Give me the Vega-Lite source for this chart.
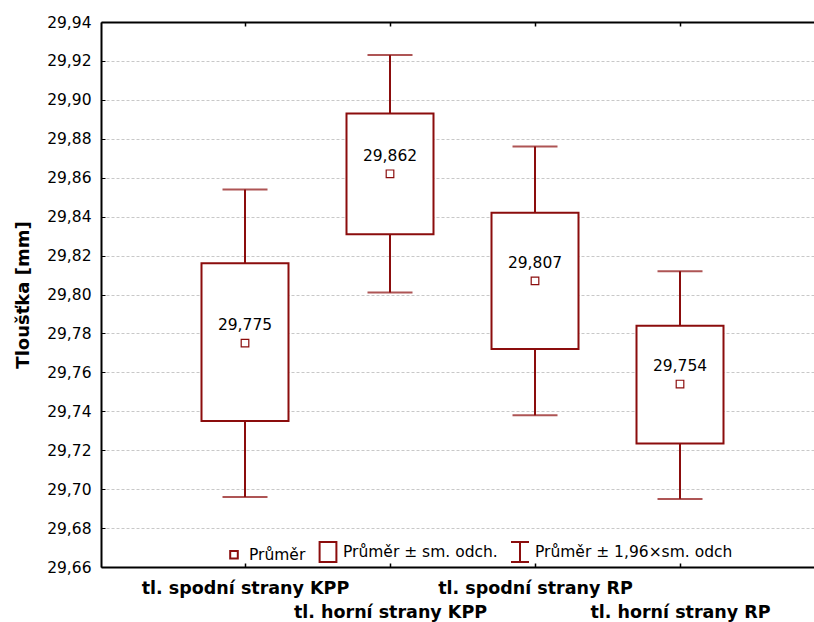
{
  "$schema": "https://vega.github.io/schema/vega-lite/v6.json",
  "width": 713,
  "height": 545,
  "autosize": {"type": "none"},
  "padding": {"left": 101, "top": 22, "right": 0, "bottom": 55},
  "background": "white",
  "config": {
    "locale": {"number": {"decimal": ",", "thousands": " ", "grouping": [3], "currency": ["", " Kč"]}},
    "font": "DejaVu Sans",
    "view": {"stroke": null},
    "axis": {"labelFont": "DejaVu Sans", "titleFont": "DejaVu Sans", "labelColor": "black", "titleColor": "black"}
  },
  "data": {
    "values": [
      {"strana": "tl. spodní strany KPP", "typ": "Průměr", "prumer": 29.775, "sd_lo": 29.735, "sd_hi": 29.816, "ci_lo": 29.696, "ci_hi": 29.854},
      {"strana": "tl. horní strany KPP", "typ": "Průměr", "prumer": 29.862, "sd_lo": 29.831, "sd_hi": 29.893, "ci_lo": 29.801, "ci_hi": 29.923},
      {"strana": "tl. spodní strany RP", "typ": "Průměr", "prumer": 29.807, "sd_lo": 29.772, "sd_hi": 29.842, "ci_lo": 29.738, "ci_hi": 29.876},
      {"strana": "tl. horní strany RP", "typ": "Průměr", "prumer": 29.754, "sd_lo": 29.7235, "sd_hi": 29.784, "ci_lo": 29.695, "ci_hi": 29.812}
    ]
  },
  "resolve": {"axis": {"x": "independent", "y": "independent"}},
  "layer": [
    {
      "mark": {"type": "rule", "color": "#8b0d0d", "strokeWidth": 2},
      "encoding": {
        "x": {
          "field": "strana", "type": "nominal", "sort": null,
          "scale": {"type": "point", "padding": 0.9586, "align": 0.518},
          "axis": {
            "orient": "bottom", "title": null, "labelAngle": 0,
            "domainColor": "black", "domainWidth": 2,
            "tickColor": "black", "tickWidth": 1.5, "tickSize": -4,
            "labelFontSize": 17.5, "labelFontWeight": "bold", "labelLimit": 300,
            "labelBaseline": "top", "labelPadding": 16, "labelLineHeight": 24,
            "labelExpr": "indexof(datum.value, 'horní') >= 0 ? ['', datum.label] : datum.label"
          }
        },
        "y": {
          "field": "ci_lo", "type": "quantitative", "title": "Tloušťka [mm]",
          "scale": {"domain": [29.66, 29.94], "nice": false, "zero": false},
          "axis": {
            "values": [29.66, 29.68, 29.70, 29.72, 29.74, 29.76, 29.78, 29.80, 29.82, 29.84, 29.86, 29.88, 29.90, 29.92, 29.94],
            "format": ".2f", "labelOverlap": false,
            "domainColor": "black", "domainWidth": 2,
            "tickColor": "black", "tickWidth": 1, "tickSize": -4,
            "labelFontSize": 15.5, "labelPadding": 14,
            "titleFontSize": 18, "titleFontWeight": "bold", "titlePadding": 14,
            "grid": true, "gridColor": "#c8c8c8", "gridDash": [3, 2], "gridWidth": 1
          }
        },
        "y2": {"field": "ci_hi"}
      }
    },
    {
      "mark": {"type": "tick", "color": "#8b0d0d", "thickness": 2, "size": 45, "orient": "horizontal"},
      "encoding": {
        "x": {"field": "strana", "type": "nominal", "sort": null, "axis": null},
        "y": {"field": "ci_lo", "type": "quantitative", "axis": null}
      }
    },
    {
      "mark": {"type": "tick", "color": "#8b0d0d", "thickness": 2, "size": 45, "orient": "horizontal"},
      "encoding": {
        "x": {"field": "strana", "type": "nominal", "sort": null, "axis": null},
        "y": {"field": "ci_hi", "type": "quantitative", "axis": null}
      }
    },
    {
      "mark": {"type": "bar", "fill": "white", "stroke": "#8b0d0d", "strokeWidth": 2, "size": 87},
      "encoding": {
        "x": {"field": "strana", "type": "nominal", "sort": null, "axis": null},
        "y": {"field": "sd_lo", "type": "quantitative", "axis": null},
        "y2": {"field": "sd_hi"}
      }
    },
    {
      "mark": {"type": "point", "filled": false, "color": "#8b0d0d", "strokeWidth": 1.2, "size": 400, "opacity": 1},
      "encoding": {
        "x": {"field": "strana", "type": "nominal", "sort": null, "axis": null},
        "y": {"field": "prumer", "type": "quantitative", "axis": null},
        "shape": {
          "field": "typ", "type": "nominal",
          "scale": {
            "domain": ["Průměr", "Průměr ± sm. odch.", "Průměr ± 1,96×sm. odch"],
            "range": [
              "M-0.38,-0.38H0.38V0.38H-0.38Z",
              "M-0.84,-1H0.84V1H-0.84Z",
              "M-0.9,-1H0.9M0,-1V1M-0.9,1H0.9"
            ]
          },
          "legend": {
            "title": null, "orient": "none", "direction": "horizontal",
            "legendX": 122, "legendY": 519,
            "symbolSize": 400, "symbolStrokeColor": "#8b0d0d", "symbolFillColor": "white",
            "symbolStrokeWidth": 2, "symbolOpacity": 1, "labelFontSize": 15.5, "labelFont": "DejaVu Sans",
            "labelColor": "black", "labelOffset": 4, "columnPadding": 9, "labelLimit": 400
          }
        }
      }
    },
    {
      "mark": {"type": "text", "dy": -18, "fontSize": 15.5, "color": "black"},
      "encoding": {
        "x": {
          "field": "strana", "type": "nominal", "sort": null,
          "axis": {
            "orient": "top", "title": null, "labels": false,
            "domainColor": "black", "domainWidth": 2,
            "tickColor": "black", "tickWidth": 1.5, "tickSize": -4
          }
        },
        "y": {"field": "prumer", "type": "quantitative", "axis": null},
        "text": {"field": "prumer", "type": "quantitative", "format": ".3f"}
      }
    }
  ]
}
